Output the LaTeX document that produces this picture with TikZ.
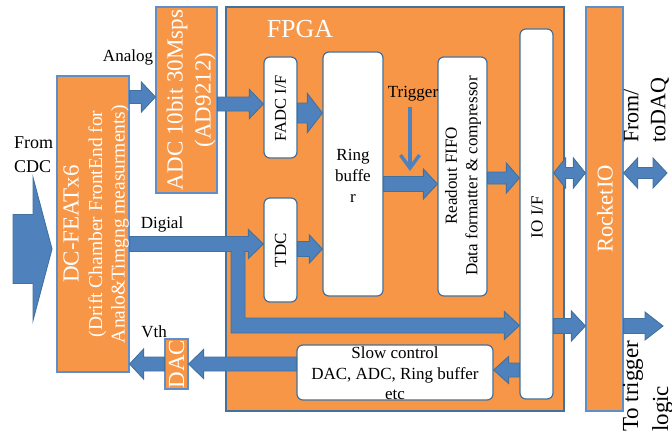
\documentclass[tikz,border=0pt]{standalone}
\usepackage{fontspec}
\setmainfont{Liberation Serif}
\usetikzlibrary{calc,arrows.meta}
\definecolor{orng}{HTML}{F79646}
\definecolor{ablue}{HTML}{4F81BD}
\definecolor{adark}{HTML}{41719C}
\definecolor{lblue}{HTML}{5E8FCB}
% right-pointing block arrow: #1 tail, #2 tip, #3 shaft half width, #4 head half width, #5 head length
\newcommand\BArR[5]{\path[barrow] let \p1=(#1), \p2=(#2) in
  (\x1,\y1+#3) -- (\x2-#5,\y1+#3) -- (\x2-#5,\y1+#4) -- (\x2,\y1) -- (\x2-#5,\y1-#4) -- (\x2-#5,\y1-#3) -- (\x1,\y1-#3) -- cycle;}
% left-pointing block arrow: #1 tail (right), #2 tip (left)
\newcommand\BArL[5]{\path[barrow] let \p1=(#1), \p2=(#2) in
  (\x1,\y1+#3) -- (\x2+#5,\y1+#3) -- (\x2+#5,\y1+#4) -- (\x2,\y1) -- (\x2+#5,\y1-#4) -- (\x2+#5,\y1-#3) -- (\x1,\y1-#3) -- cycle;}
% double block arrow: #1 left tip, #2 right tip
\newcommand\BArD[5]{\path[barrow] let \p1=(#1), \p2=(#2) in
  (\x1,\y1) -- (\x1+#5,\y1+#4) -- (\x1+#5,\y1+#3) -- (\x2-#5,\y1+#3) -- (\x2-#5,\y1+#4) -- (\x2,\y1) -- (\x2-#5,\y1-#4) -- (\x2-#5,\y1-#3) -- (\x1+#5,\y1-#3) -- (\x1+#5,\y1-#4) -- cycle;}
\begin{document}
\begin{tikzpicture}[x=1pt,y=-1pt,
  obox/.style={draw=lblue, fill=orng, line width=1.2pt, inner sep=0pt},
  wbox/.style={draw=adark, fill=white, line width=1.2pt, rounded corners=6pt, inner sep=0pt},
  barrow/.style={fill=ablue, draw=adark, line width=0.9pt, line join=miter},
  lbl/.style={font=\fontsize{17}{20.5}\selectfont, inner sep=0pt, align=center},
  wlbl/.style={text=white, inner sep=0pt, align=center},
  trig/.style={draw=ablue, line width=3.5pt, -{Straight Barb[length=13pt,width=19pt]}}]
\fill[white] (0,0) rectangle (672,436);
\useasboundingbox (0,0) rectangle (672,436);

% main boxes
\node[obox, draw=adark, minimum width=338pt, minimum height=404pt] (fpga) at (395,209) {};
\node[obox, minimum width=72pt, minimum height=296pt] (dc) at (93,224) {};
\node[obox, minimum width=61pt, minimum height=186pt] (adc) at (186.5,100) {};
\node[obox, minimum width=37pt, minimum height=404pt] (rocket) at (604.5,209) {};
\node[obox, minimum width=23pt, minimum height=50pt] (dac) at (176.5,364) {};

% inner boxes
\node[wbox, minimum width=33pt, minimum height=101pt] (fadc) at (280.5,107.5) {};
\node[wbox, minimum width=33pt, minimum height=104pt] (tdc) at (280.5,250) {};
\node[wbox, minimum width=60pt, minimum height=244pt] (ring) at (353,174) {};
\node[wbox, minimum width=49pt, minimum height=239pt] (fifo) at (462.5,176.5) {};
\node[wbox, minimum width=33pt, minimum height=370pt] (iof) at (536.5,214) {};
\node[wbox, minimum width=196pt, minimum height=55pt] (slow) at (395,372.5) {};

% box texts
\node[wlbl, font=\fontsize{26}{30}\selectfont] (fpgat) at (300,29) {FPGA};
\node[wlbl, rotate=90, font=\fontsize{19.5}{22.5}\selectfont] (dct) at (96,224)
  {{\fontsize{23}{26}\selectfont DC-FEATx6}\\[1pt](Drift Chamber FrontEnd for\\Analo\&Timgng measurments)};
\node[wlbl, rotate=90, font=\fontsize{23}{28}\selectfont] (adct) at (191,100) {ADC 10bit 30Msps\\(AD9212)};
\node[wlbl, rotate=90, font=\fontsize{22.6}{26}\selectfont] (rockett) at (605,209) {RocketIO};
\node[wlbl, rotate=90, font=\fontsize{23}{26}\selectfont] (dact) at (176.5,364) {DAC};
\node[lbl, rotate=90, font=\fontsize{16.5}{20}\selectfont] (fadct) at (280.5,108) {FADC I/F};
\node[lbl, rotate=90] (tdct) at (280.5,250) {TDC};
\node[lbl, font=\fontsize{17}{21}\selectfont] (ringt) at (353,176) {Ring\\buffe\\r};
\node[lbl, rotate=90] (fifot) at (463,176) {Readout FIFO\\Data formatter \& compressor};
\node[lbl, rotate=90] (ioft) at (537,217) {IO I/F};
\node[lbl] (slowt) at (395,373.5) {Slow control\\DAC, ADC, Ring buffer\\etc};

% outside labels
\node[lbl, font=\fontsize{18}{24}\selectfont, align=left, anchor=west] (cdct) at (14,155) {From\\CDC};
\node[lbl] (analogt) at (128,57) {Analog};
\node[lbl] (digt) at (162,224) {Digial};
\node[lbl] (vtht) at (154,332) {Vth};
\node[lbl] (trigt) at (413,94) {Trigger};
\node[lbl, rotate=90, font=\fontsize{22}{27}\selectfont, align=left, anchor=west] (daqt) at (646.5,143) {From/\\toDAQ};
\node[lbl, rotate=90, font=\fontsize{23}{30}\selectfont, align=left, anchor=west] (trlt) at (648,432) {To trigger\\logic};

% connectors
\coordinate (cdcsrc) at (13,249);
\coordinate (cdctip) at (52,249);
\BArR{cdcsrc}{cdctip}{34.5pt}{71.5pt}{19pt}
\BArR{dc.east |- 0,97}{adc.west |- 0,97}{6.5pt}{15pt}{14pt}
\BArR{adc.east |- 0,104}{fadc.west |- 0,104}{7pt}{14.5pt}{14pt}
\BArR{fadc.east |- 0,113}{ring.west |- 0,113}{10pt}{19.5pt}{15pt}
% branch from digital line to IO I/F
\path[barrow] let \p1=(iof.west |- 0,325.5) in
  (231,244) -- (245,244) -- (245,318) -- (\x1-15pt,\y1+7.5pt) -- (\x1-15pt,\y1+14pt) -- (\x1,\y1)
  -- (\x1-15pt,\y1-14pt) -- (\x1-15pt,\y1-7.5pt) -- (231,333) -- cycle;
\BArR{dc.east |- 0,244}{tdc.west |- 0,244}{7.5pt}{14.5pt}{15pt}
\fill[ablue] (231.7,249) rectangle (244.3,255);
\BArR{tdc.east |- 0,249}{ring.west |- 0,249}{7.5pt}{14pt}{13pt}
\BArR{ring.east |- 0,184}{fifo.west |- 0,184}{7.5pt}{15pt}{14pt}
\BArR{fifo.east |- 0,178}{iof.west |- 0,178}{6pt}{15pt}{13pt}
\BArD{iof.east |- 0,173}{rocket.west |- 0,173}{5.5pt}{15pt}{12pt}
\coordinate (daqend) at (667,173);
\BArD{rocket.east |- 0,173}{daqend}{5.5pt}{15pt}{14pt}
\BArR{iof.east |- 0,326}{rocket.west |- 0,326}{7.5pt}{15pt}{14pt}
\coordinate (trlend) at (663,326);
\BArR{rocket.east |- 0,326}{trlend}{7.5pt}{14pt}{18pt}
\BArL{iof.west |- 0,370}{slow.east |- 0,370}{7pt}{13.5pt}{15pt}
\BArL{slow.west |- 0,364}{dac.east |- 0,364}{7pt}{14.5pt}{15pt}
\BArL{dac.west |- 0,364}{dc.east |- 0,364}{7pt}{15pt}{14pt}

\coordinate (trigsrc) at (410,107);
\coordinate (trigtip) at (410,171);
\draw[trig] (trigsrc) -- (trigtip);
\end{tikzpicture}
\end{document}
